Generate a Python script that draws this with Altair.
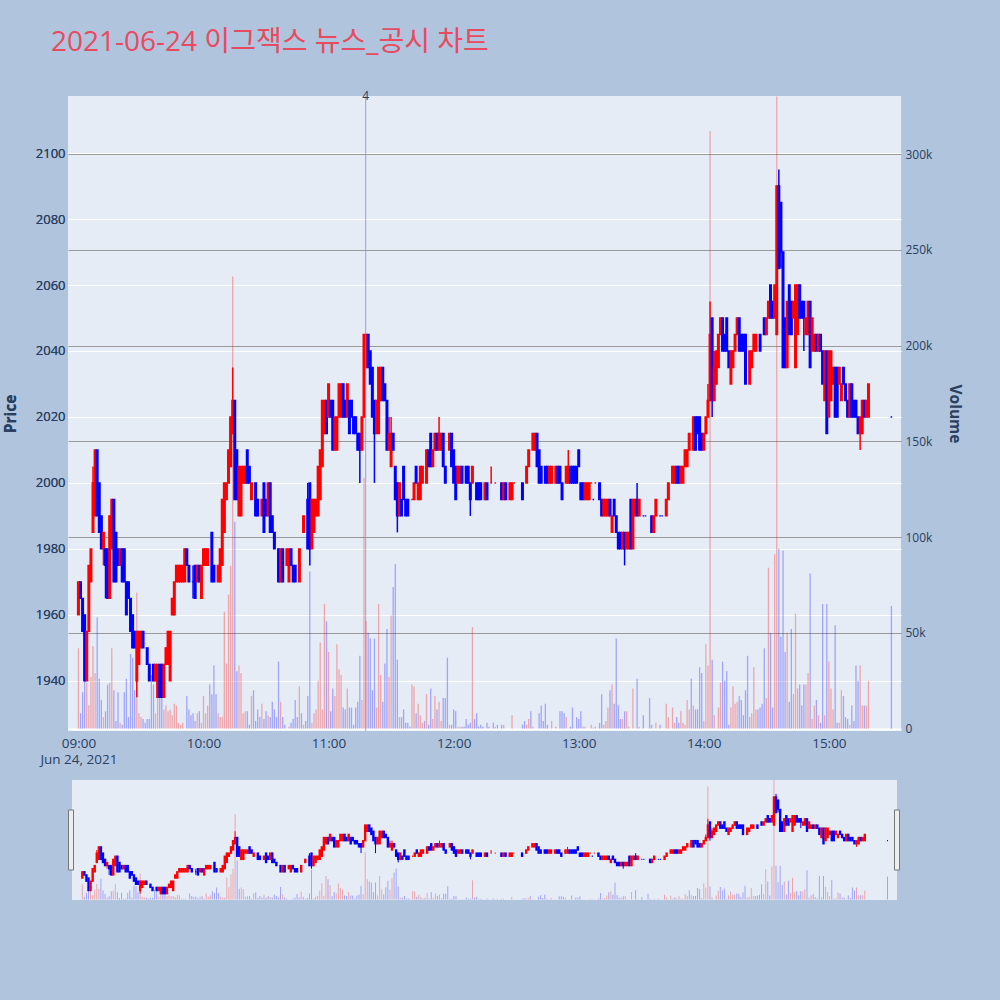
import altair as alt
import pandas as pd

TITLE = "2021-06-24 이그잭스 뉴스_공시 차트"

# 1-minute candles: (minutes after 09:00, open, high, low, close)
candles_0900 = [
    (0, 1960, 1970, 1960, 1970), (1, 1970, 1970, 1965, 1965), (2, 1965, 1965, 1955, 1955),
    (3, 1960, 1960, 1940, 1940), (4, 1940, 1955, 1940, 1955), (5, 1955, 1975, 1955, 1975),
    (6, 1970, 1980, 1970, 1980), (7, 1985, 2005, 1985, 2000), (8, 1990, 2010, 1990, 2010),
    (9, 2010, 2010, 1990, 1990), (10, 2000, 2000, 1985, 1985), (11, 1990, 1990, 1980, 1980),
    (12, 1980, 1985, 1975, 1985), (13, 1980, 1980, 1965, 1975), (14, 1980, 1980, 1965, 1965),
    (15, 1965, 1990, 1965, 1990), (16, 1980, 1995, 1980, 1995), (17, 1995, 1995, 1970, 1970),
    (18, 1985, 1985, 1970, 1970), (19, 1980, 1980, 1975, 1975), (20, 1975, 1980, 1975, 1980),
    (21, 1980, 1980, 1970, 1970), (22, 1980, 1980, 1970, 1970), (23, 1970, 1970, 1960, 1960),
    (24, 1970, 1970, 1965, 1965), (25, 1965, 1965, 1955, 1955), (26, 1960, 1960, 1950, 1950),
    (27, 1955, 1955, 1950, 1950), (28, 1940, 1955, 1935, 1955), (29, 1945, 1955, 1945, 1955),
    (30, 1950, 1955, 1950, 1955), (31, 1955, 1955, 1950, 1950), (33, 1950, 1950, 1945, 1945),
    (34, 1945, 1945, 1940, 1940), (36, 1945, 1945, 1940, 1940), (37, 1940, 1945, 1940, 1945),
    (38, 1935, 1945, 1935, 1945), (39, 1945, 1945, 1935, 1935), (40, 1945, 1945, 1935, 1935),
    (41, 1935, 1945, 1935, 1945), (42, 1945, 1950, 1945, 1950), (43, 1945, 1955, 1945, 1955),
    (44, 1940, 1955, 1940, 1955), (45, 1960, 1965, 1960, 1965), (46, 1960, 1970, 1960, 1970),
    (47, 1970, 1975, 1970, 1975), (48, 1970, 1975, 1970, 1975), (49, 1970, 1975, 1970, 1975),
    (50, 1970, 1975, 1970, 1975), (51, 1970, 1980, 1970, 1980), (52, 1980, 1980, 1975, 1975),
    (53, 1975, 1975, 1970, 1970), (55, 1970, 1975, 1965, 1970), (56, 1975, 1975, 1965, 1965),
    (57, 1970, 1975, 1970, 1975), (58, 1975, 1975, 1970, 1970), (59, 1965, 1975, 1965, 1975),
]
candles_1000 = [
    (60, 1975, 1980, 1975, 1980), (61, 1975, 1980, 1975, 1980), (62, 1975, 1980, 1975, 1980),
    (64, 1985, 1985, 1970, 1970), (65, 1975, 1975, 1970, 1970), (67, 1970, 1975, 1970, 1975),
    (68, 1970, 1980, 1970, 1980), (69, 1975, 1995, 1975, 1995), (70, 1985, 2000, 1985, 2000),
    (71, 1995, 2000, 1995, 2000), (72, 2000, 2010, 2000, 2010), (73, 2005, 2020, 2005, 2020),
    (74, 2015, 2035, 2015, 2025), (75, 2025, 2025, 1995, 1995), (76, 2010, 2010, 1995, 1995),
    (77, 1990, 2005, 1990, 2005), (78, 1990, 2005, 1990, 2005), (79, 2000, 2005, 2000, 2005),
    (80, 2000, 2005, 2000, 2005), (81, 2010, 2010, 2000, 2000), (82, 2005, 2005, 2000, 2000),
    (83, 1995, 2000, 1995, 2000), (85, 2000, 2000, 1990, 1990), (86, 1995, 1995, 1990, 1990),
    (88, 1990, 1995, 1990, 1995), (89, 2000, 2000, 1985, 1985), (90, 1995, 1995, 1990, 1990),
    (91, 1990, 2000, 1990, 2000), (92, 2000, 2000, 1985, 1985), (93, 1990, 1990, 1985, 1985),
    (94, 1985, 1985, 1980, 1980), (96, 1980, 1980, 1970, 1970), (97, 1970, 1980, 1970, 1980),
    (98, 1980, 1980, 1970, 1970), (100, 1975, 1980, 1975, 1980), (101, 1970, 1980, 1970, 1980),
    (102, 1980, 1980, 1975, 1975), (103, 1975, 1975, 1970, 1970), (104, 1975, 1975, 1970, 1970),
    (106, 1970, 1980, 1970, 1980), (108, 1985, 1990, 1985, 1990), (110, 1995, 2000, 1980, 1980),
    (111, 2000, 2000, 1975, 1980), (112, 1980, 1995, 1980, 1995), (113, 1985, 1995, 1985, 1995),
    (114, 1990, 1995, 1990, 1995), (115, 1990, 2005, 1990, 2005), (116, 1995, 2010, 1995, 2010),
    (117, 2005, 2025, 2005, 2025), (118, 2015, 2025, 2015, 2025), (119, 2025, 2025, 2015, 2015),
]
candles_1100 = [
    (120, 2020, 2030, 2020, 2030), (121, 2025, 2025, 2020, 2020), (122, 2025, 2025, 2010, 2010),
    (123, 2010, 2020, 2010, 2020), (124, 2010, 2020, 2010, 2020), (125, 2020, 2030, 2020, 2030),
    (126, 2020, 2030, 2020, 2030), (127, 2030, 2030, 2020, 2020), (128, 2025, 2025, 2020, 2020),
    (129, 2020, 2030, 2020, 2030), (130, 2025, 2025, 2015, 2015), (131, 2025, 2025, 2020, 2020),
    (132, 2020, 2020, 2015, 2015), (133, 2020, 2020, 2015, 2015), (134, 2015, 2015, 2010, 2010),
    (135, 2015, 2015, 2000, 2010), (136, 2010, 2020, 2010, 2020), (137, 2020, 2045, 2020, 2045),
    (138, 2035, 2045, 2035, 2045), (139, 2045, 2045, 2035, 2035), (140, 2040, 2040, 2030, 2030),
    (141, 2035, 2035, 2020, 2020), (142, 2025, 2025, 2000, 2015), (143, 2015, 2025, 2015, 2025),
    (144, 2015, 2035, 2015, 2035), (145, 2025, 2035, 2025, 2035), (146, 2035, 2035, 2025, 2025),
    (147, 2030, 2030, 2025, 2025), (148, 2025, 2025, 2010, 2010), (149, 2010, 2020, 2010, 2015),
    (150, 2005, 2020, 2005, 2015), (151, 2015, 2015, 2010, 2010), (152, 2005, 2005, 1995, 1995),
    (153, 2000, 2000, 1985, 1990), (154, 1990, 2000, 1990, 2000), (155, 1995, 1995, 1990, 1990),
    (156, 2005, 2005, 1995, 1995), (157, 1995, 1995, 1990, 1990), (158, 1995, 1995, 1990, 1990),
    (160, 1995, 1995, 1995, 1995), (161, 1995, 2000, 1995, 2000), (162, 2005, 2005, 2000, 2000),
    (163, 1995, 2000, 1995, 2000), (164, 1995, 2005, 1995, 2005), (165, 2000, 2005, 2000, 2005),
    (167, 2000, 2010, 2000, 2010), (168, 2010, 2010, 2005, 2005), (169, 2015, 2015, 2005, 2005),
    (170, 2005, 2010, 2005, 2010), (171, 2010, 2015, 2010, 2015), (172, 2015, 2015, 2010, 2010),
    (173, 2010, 2020, 2010, 2015), (174, 2010, 2015, 2010, 2015), (175, 2015, 2015, 2005, 2005),
    (176, 2005, 2005, 2000, 2000), (178, 2010, 2015, 2010, 2015), (179, 2015, 2015, 2005, 2005),
]
candles_1200 = [
    (180, 2010, 2010, 2000, 2000), (181, 2005, 2005, 1995, 1995), (182, 2000, 2005, 2000, 2005),
    (183, 2000, 2005, 2000, 2005), (184, 2005, 2005, 2000, 2000), (186, 2005, 2005, 2000, 2000),
    (187, 2005, 2005, 2000, 2000), (188, 2000, 2000, 1990, 1995), (189, 2000, 2005, 2000, 2005),
    (191, 2000, 2000, 1995, 1995), (192, 2000, 2000, 1995, 1995), (193, 2000, 2000, 1995, 1995),
    (195, 1995, 2000, 1995, 2000), (196, 2000, 2000, 1995, 1995), (198, 2000, 2005, 2000, 2000),
    (200, 2000, 2000, 2000, 2000), (203, 2000, 2000, 1995, 1995), (204, 1995, 2000, 1995, 2000),
    (205, 2000, 2000, 1995, 1995), (207, 1995, 2000, 1995, 2000), (208, 1995, 2000, 1995, 2000),
    (209, 2000, 2000, 2000, 2000), (213, 2000, 2000, 1995, 1995), (215, 2000, 2005, 2000, 2005),
    (216, 2005, 2010, 2005, 2010), (218, 2010, 2015, 2010, 2015), (219, 2010, 2015, 2010, 2015),
    (220, 2015, 2015, 2005, 2005), (221, 2010, 2010, 2000, 2000), (222, 2005, 2005, 2000, 2000),
    (224, 2005, 2005, 2000, 2000), (225, 2005, 2005, 2000, 2000), (226, 2000, 2005, 2000, 2005),
    (227, 2000, 2005, 2000, 2005), (229, 2000, 2005, 2000, 2005), (230, 2005, 2005, 2000, 2000),
    (231, 2005, 2005, 2000, 2000), (232, 2000, 2000, 1995, 1995), (234, 2000, 2005, 2000, 2005),
    (235, 2000, 2010, 2000, 2005), (236, 2005, 2005, 2000, 2000), (237, 2005, 2005, 2000, 2000),
    (238, 2005, 2005, 2000, 2000), (239, 2005, 2005, 2000, 2000),
]
candles_1300 = [
    (240, 2010, 2010, 2005, 2005), (241, 2000, 2000, 1995, 1995), (242, 2000, 2000, 1995, 1995),
    (243, 1995, 2000, 1995, 2000), (244, 1995, 2000, 1995, 2000), (245, 1995, 2000, 1995, 2000),
    (246, 2000, 2000, 2000, 2000), (247, 1995, 1995, 1995, 1995), (248, 2000, 2000, 2000, 2000),
    (250, 2000, 2000, 1995, 1995), (251, 1995, 1995, 1990, 1990), (252, 1990, 1995, 1990, 1995),
    (253, 1990, 1995, 1990, 1995), (254, 1990, 1995, 1990, 1995), (255, 1995, 1995, 1990, 1990),
    (256, 1985, 1990, 1985, 1990), (257, 1995, 1995, 1990, 1990), (258, 1990, 1990, 1985, 1985),
    (259, 1985, 1985, 1980, 1980), (260, 1985, 1985, 1980, 1980), (261, 1980, 1985, 1980, 1985),
    (262, 1985, 1985, 1975, 1980), (263, 1980, 1985, 1980, 1985), (264, 1980, 1985, 1980, 1985),
    (265, 1995, 1995, 1980, 1980), (266, 1980, 1995, 1980, 1995), (267, 1990, 1995, 1990, 1995),
    (268, 1995, 2000, 1990, 1990), (269, 1990, 1995, 1990, 1995), (271, 1990, 1990, 1990, 1990),
    (272, 1990, 1990, 1990, 1990), (275, 1990, 1990, 1985, 1985), (276, 1985, 1990, 1985, 1990),
    (277, 1990, 1995, 1990, 1995), (279, 1990, 1990, 1990, 1990), (280, 1990, 1990, 1990, 1990),
    (282, 1990, 1995, 1990, 1995), (283, 1995, 2000, 1995, 2000), (285, 2000, 2005, 2000, 2005),
    (286, 2000, 2005, 2000, 2005), (287, 2005, 2005, 2000, 2000), (288, 2005, 2005, 2000, 2000),
    (289, 2000, 2005, 2000, 2005), (290, 2000, 2005, 2000, 2005), (291, 2005, 2010, 2005, 2010),
    (292, 2005, 2010, 2005, 2010), (293, 2010, 2015, 2010, 2015), (295, 2010, 2020, 2010, 2020),
    (296, 2020, 2020, 2010, 2010), (297, 2020, 2020, 2015, 2015), (298, 2020, 2020, 2010, 2010),
    (299, 2015, 2015, 2010, 2010),
]
candles_1400 = [
    (300, 2010, 2015, 2010, 2015), (301, 2015, 2020, 2015, 2020), (302, 2020, 2030, 2020, 2025),
    (303, 2025, 2055, 2025, 2045), (304, 2050, 2050, 2020, 2025), (305, 2025, 2040, 2025, 2035),
    (306, 2030, 2040, 2030, 2040), (307, 2035, 2045, 2035, 2045), (308, 2045, 2050, 2045, 2050),
    (309, 2050, 2050, 2040, 2040), (310, 2045, 2045, 2040, 2040), (311, 2050, 2050, 2040, 2040),
    (312, 2040, 2040, 2035, 2035), (313, 2030, 2040, 2030, 2040), (314, 2035, 2040, 2035, 2040),
    (315, 2040, 2045, 2040, 2045), (316, 2045, 2050, 2045, 2050), (317, 2050, 2050, 2040, 2040),
    (318, 2045, 2045, 2040, 2040), (319, 2045, 2045, 2040, 2040), (320, 2045, 2045, 2030, 2030),
    (322, 2030, 2040, 2030, 2040), (323, 2035, 2040, 2035, 2040), (324, 2040, 2045, 2040, 2045),
    (325, 2040, 2045, 2040, 2045), (327, 2045, 2045, 2040, 2040), (329, 2050, 2050, 2045, 2045),
    (330, 2045, 2050, 2045, 2050), (331, 2050, 2055, 2050, 2055), (332, 2060, 2060, 2050, 2050),
    (333, 2055, 2055, 2050, 2050), (334, 2050, 2060, 2050, 2060), (335, 2045, 2090, 2045, 2090),
    (336, 2090, 2095, 2065, 2065), (337, 2085, 2085, 2065, 2070), (338, 2070, 2070, 2035, 2035),
    (339, 2050, 2050, 2035, 2035), (340, 2035, 2055, 2035, 2055), (341, 2060, 2060, 2045, 2045),
    (342, 2055, 2055, 2045, 2045), (343, 2050, 2055, 2050, 2055), (344, 2035, 2060, 2035, 2060),
    (345, 2045, 2060, 2045, 2060), (346, 2060, 2060, 2050, 2050), (347, 2055, 2055, 2050, 2050),
    (348, 2055, 2055, 2040, 2050), (349, 2045, 2050, 2045, 2050), (350, 2045, 2055, 2045, 2055),
    (351, 2055, 2055, 2035, 2035), (352, 2040, 2050, 2040, 2050), (353, 2040, 2045, 2040, 2045),
    (354, 2045, 2045, 2040, 2040), (355, 2040, 2045, 2040, 2045), (356, 2045, 2045, 2040, 2040),
    (357, 2040, 2040, 2030, 2030), (358, 2025, 2040, 2025, 2040), (359, 2040, 2040, 2015, 2015),
]
candles_1500 = [
    (360, 2020, 2040, 2020, 2040), (361, 2025, 2040, 2025, 2040), (362, 2030, 2035, 2030, 2035),
    (363, 2035, 2035, 2020, 2020), (364, 2035, 2035, 2020, 2020), (365, 2030, 2035, 2030, 2035),
    (366, 2025, 2030, 2025, 2030), (367, 2035, 2035, 2030, 2030), (368, 2030, 2030, 2025, 2025),
    (369, 2025, 2025, 2020, 2020), (370, 2020, 2030, 2020, 2030), (371, 2030, 2030, 2020, 2020),
    (372, 2025, 2025, 2020, 2020), (373, 2025, 2025, 2020, 2020), (374, 2020, 2020, 2015, 2015),
    (375, 2015, 2020, 2010, 2020), (376, 2015, 2025, 2015, 2025), (377, 2025, 2025, 2020, 2020),
    (378, 2020, 2025, 2020, 2025), (379, 2020, 2030, 2020, 2030), (390, 2020, 2020, 2020, 2020),
]

# traded shares per minute: (minutes after 09:00, volume)
volume_0900 = [
    (0, 42000), (1, 8000), (2, 19000), (3, 28000), (4, 24000), (5, 12000), (6, 27000),
    (7, 43000), (8, 29000), (9, 58000), (10, 26000), (11, 15000), (12, 6000), (13, 9000),
    (14, 23000), (15, 24000), (16, 42000), (17, 20000), (18, 4000), (19, 19000), (20, 3000),
    (21, 2000), (22, 19000), (23, 26000), (24, 6000), (25, 39000), (26, 37000), (27, 20000),
    (28, 71000), (29, 8000), (30, 6000), (31, 5000), (32, 3000), (33, 5000), (34, 5000),
    (35, 28000), (36, 23000), (37, 8000), (38, 20000), (39, 17000), (40, 24000), (41, 10000),
    (42, 12000), (43, 9000), (44, 10000), (45, 7000), (46, 13000), (47, 12000), (48, 3000),
    (49, 2000), (50, 3000), (52, 17000), (53, 10000), (54, 7000), (55, 8000), (56, 4000),
    (57, 8000), (58, 9000), (59, 3000),
]
volume_1000 = [
    (60, 17000), (61, 8000), (62, 12000), (63, 23000), (64, 18000), (65, 33000), (66, 18000),
    (67, 8000), (68, 6000), (69, 6000), (70, 61000), (71, 34000), (72, 70000), (73, 85000),
    (74, 236000), (75, 108000), (76, 30000), (77, 33000), (78, 29000), (79, 8000), (80, 9000),
    (81, 9000), (82, 2000), (83, 17000), (84, 20000), (85, 4000), (86, 10000), (87, 6000),
    (88, 13000), (89, 5000), (90, 9000), (91, 7000), (92, 6000), (93, 14000), (94, 10000),
    (95, 6000), (96, 35000), (97, 14000), (98, 6000), (99, 2000), (101, 1000), (102, 3000),
    (103, 5000), (104, 15000), (105, 6000), (106, 22000), (107, 8000), (108, 2000), (109, 4000),
    (110, 17000), (111, 82000), (112, 3000), (113, 8000), (114, 10000), (115, 25000),
    (116, 45000), (117, 10000), (118, 65000), (119, 56000),
]
volume_1100 = [
    (120, 40000), (121, 9000), (122, 21000), (123, 17000), (124, 44000), (125, 31000),
    (126, 28000), (127, 11000), (128, 10000), (129, 21000), (130, 11000), (131, 11000),
    (132, 2000), (133, 11000), (134, 14000), (135, 38000), (136, 15000), (137, 131000),
    (138, 56000), (139, 50000), (140, 47000), (141, 20000), (142, 47000), (143, 11000),
    (144, 65000), (145, 28000), (146, 14000), (147, 34000), (148, 52000), (149, 27000),
    (150, 59000), (151, 74000), (152, 86000), (153, 36000), (154, 6000), (155, 6000),
    (156, 10000), (157, 3000), (158, 3000), (159, 1000), (160, 23000), (161, 22000),
    (162, 8000), (163, 13000), (164, 7000), (165, 3000), (166, 4000), (167, 18000),
    (168, 2000), (169, 21000), (170, 5000), (171, 17000), (172, 10000), (173, 14000),
    (174, 4000), (175, 16000), (176, 16000), (177, 37000), (178, 2000), (179, 2000),
]
volume_1200 = [
    (180, 10000), (181, 9000), (182, 1000), (183, 1000), (184, 1000), (185, 1000), (186, 5000),
    (187, 2000), (188, 3000), (189, 53000), (190, 5000), (191, 8000), (192, 1000), (193, 2000),
    (194, 1000), (196, 3000), (197, 1000), (199, 3000), (200, 1000), (201, 2000), (203, 2000),
    (204, 2000), (208, 7000), (213, 2000), (214, 4000), (215, 2000), (216, 5000), (217, 9000),
    (218, 1000), (221, 8000), (222, 12000), (223, 4000), (224, 13000), (225, 2000), (227, 4000),
    (229, 1000), (231, 9000), (232, 9000), (233, 8000), (234, 6000), (236, 1000), (237, 11000),
    (239, 6000),
]
volume_1300 = [
    (240, 5000), (241, 9000), (242, 1000), (243, 1000), (246, 2000), (247, 500), (248, 1000),
    (250, 3000), (251, 18000), (252, 2000), (253, 4000), (254, 11000), (255, 20000),
    (256, 23000), (257, 13000), (258, 47000), (259, 12000), (260, 5000), (261, 5000),
    (262, 9000), (263, 9000), (264, 1000), (266, 21000), (268, 26000), (269, 1000), (271, 7000),
    (274, 16000), (275, 2000), (277, 3000), (279, 2000), (282, 13000), (283, 6000), (285, 11000),
    (286, 3000), (287, 6000), (288, 3000), (289, 9000), (290, 3000), (291, 2000), (292, 15000),
    (293, 10000), (294, 26000), (295, 12000), (296, 10000), (297, 10000), (298, 32000),
    (299, 29000),
]
volume_1400 = [
    (300, 4000), (301, 44000), (302, 33000), (303, 312000), (304, 36000), (305, 7000),
    (307, 11000), (308, 24000), (309, 35000), (310, 25000), (311, 30000), (312, 2000),
    (313, 11000), (314, 22000), (315, 13000), (316, 14000), (317, 17000), (318, 15000),
    (319, 7000), (320, 20000), (321, 38000), (322, 6000), (323, 8000), (324, 32000),
    (325, 10000), (326, 10000), (327, 11000), (328, 13000), (329, 42000), (330, 16000),
    (331, 84000), (332, 50000), (333, 11000), (334, 91000), (335, 330000), (336, 94000),
    (337, 48000), (338, 93000), (339, 40000), (340, 50000), (341, 14000), (342, 52000),
    (343, 18000), (344, 60000), (345, 21000), (346, 23000), (347, 12000), (348, 23000),
    (349, 23000), (350, 29000), (351, 81000), (352, 5000), (353, 12000), (354, 15000),
    (355, 7000), (356, 3000), (357, 65000), (358, 7000), (359, 65000),
]
volume_1500 = [
    (360, 35000), (361, 21000), (362, 10000), (363, 54000), (364, 3000), (365, 3000),
    (366, 20000), (367, 17000), (368, 6000), (369, 5000), (370, 2000), (371, 12000),
    (372, 4000), (373, 33000), (374, 25000), (375, 33000), (376, 12000), (377, 12000),
    (378, 12000), (379, 25000), (390, 64000),
]

# disclosure marker
news_minutes = [137.8]
news_labels = ["4"]

price_ticks = [1940, 1960, 1980, 2000, 2020, 2040, 2060, 2080, 2100]
volume_ticks = [0, 50000, 100000, 150000, 200000, 250000, 300000]
hour_ticks = [0, 60, 120, 180, 240, 300, 360]

price_domain = [1924.8, 2117.3]
volume_domain = [-1250, 330300]
minute_domain = [-2.6, 392.2]

UP, DOWN = "#ff0000", "#0000ff"
INK = "#2a3f5f"
PLOT_BG = "#e5ecf6"
PAGE_BG = "#b0c4de"
TITLE_RED = "#e84a5f"
FONT = "Open Sans, Noto Sans CJK KR, sans-serif"

PLOT_W, PLOT_H = 833, 635
SLIDER_H = 120
SLIDER_INSET = 4  # the slider track is a little narrower than the plot

# ---- tables -------------------------------------------------------------
candles = pd.DataFrame(
    candles_0900 + candles_1000 + candles_1100 + candles_1200
    + candles_1300 + candles_1400 + candles_1500,
    columns=["minute", "open", "high", "low", "close"],
)
dirs, prev_close, prev_dir = [], None, "up"
for o, c in zip(candles["open"], candles["close"]):
    if c > o:
        d = "up"
    elif c < o:
        d = "down"
    elif prev_close is None or c == prev_close:
        d = prev_dir
    else:
        d = "up" if c > prev_close else "down"
    dirs.append(d)
    prev_close, prev_dir = c, d
candles["dir"] = dirs

volumes = pd.DataFrame(
    volume_0900 + volume_1000 + volume_1100 + volume_1200
    + volume_1300 + volume_1400 + volume_1500,
    columns=["minute", "volume"],
)
volumes = volumes.merge(candles[["minute", "dir"]], on="minute", how="left")
volumes["dir"] = volumes["dir"].fillna("down")

news = pd.DataFrame({"minute": news_minutes, "label": news_labels})
heading = pd.DataFrame({"text": [TITLE]})

color_scale = alt.Scale(domain=["up", "down"], range=[UP, DOWN])

hour_label = (
    "datum.value == 0 ? ['09:00', 'Jun 24, 2021'] : "
    "((datum.value / 60 + 9) < 10 ? '0' : '') + (datum.value / 60 + 9) + ':00'"
)


def layers(x_domain, price_axis, volume_axis, x_axis, body_w, wick_w, vol_w):
    x = alt.X("minute:Q", scale=alt.Scale(domain=x_domain, nice=False, zero=False), axis=x_axis)
    vol = alt.Chart(volumes).mark_bar(size=vol_w, opacity=0.3).encode(
        x=x,
        y=alt.Y("volume:Q", scale=alt.Scale(domain=volume_domain, nice=False, zero=False),
                axis=volume_axis),
        y2=alt.datum(0),
        color=alt.Color("dir:N", scale=color_scale, legend=None),
    )
    py = alt.Scale(domain=price_domain, nice=False, zero=False)
    wick = alt.Chart(candles).mark_rule(strokeWidth=wick_w).encode(
        x=x,
        y=alt.Y("low:Q", scale=py, axis=price_axis),
        y2="high:Q",
        color=alt.Color("dir:N", scale=color_scale, legend=None),
    )
    body = alt.Chart(candles).mark_bar(size=body_w, strokeWidth=1.4).encode(
        x=x,
        y=alt.Y("open:Q", scale=py, axis=price_axis),
        y2="close:Q",
        fill=alt.Fill("dir:N", scale=color_scale, legend=None),
        stroke=alt.Stroke("dir:N", scale=color_scale, legend=None),
    )
    return vol, wick, body, x


price_axis = alt.Axis(
    values=price_ticks, format="d", title="Price", orient="left", grid=True,
    gridColor="white", gridWidth=1, domain=False, ticks=False, labelColor=INK,
    labelFont=FONT, labelFontSize=13, labelPadding=3, titleColor=INK, titleFont=FONT,
    titleFontSize=15.5, titleFontWeight="bold", titlePadding=17,
)
volume_axis = alt.Axis(
    values=volume_ticks, title="Volume", orient="right", grid=True,
    gridColor={"condition": {"test": "datum.value === 0", "value": "#ffffff"}, "value": "#9a9a9a"},
    gridWidth={"condition": {"test": "datum.value === 0", "value": 2}, "value": 1},
    domain=False, ticks=False,
    labelExpr="datum.value == 0 ? '0' : (datum.value / 1000) + 'k'",
    labelColor=INK, labelFont=FONT, labelFontSize=12, labelPadding=4,
    titleColor=INK, titleFont=FONT, titleFontSize=15.5, titleFontWeight="bold", titlePadding=15,
)
x_axis = alt.Axis(
    values=hour_ticks, labelExpr=hour_label, title=None, grid=False, domain=False,
    ticks=False, labelColor=INK, labelFont=FONT, labelFontSize=13.5, labelPadding=5,
    labelLineHeight=16.5,
)

vol, wick, body, xs = layers(minute_domain, price_axis, volume_axis, x_axis, 1.6, 1.5, 1.3)

news_line = alt.Chart(news).mark_rule(color="#7f8cf5", strokeWidth=1, opacity=0.8).encode(x=xs)
news_text = alt.Chart(news).mark_text(
    font=FONT, fontSize=12, color=INK, baseline="middle", dy=0
).encode(x=xs, y=alt.value(0), text="label:N")

# chart heading, placed above the plot's top-left corner
heading_text = alt.Chart(heading).mark_text(
    font=FONT, fontSize=28, color=TITLE_RED, align="left", baseline="alphabetic"
).encode(x=alt.value(-17), y=alt.value(-45), text="text:N")

main = (
    alt.layer(vol, wick, body, news_line, news_text, heading_text)
    .resolve_scale(y="independent")
    .properties(width=PLOT_W, height=PLOT_H,
                view=alt.ViewBackground(fill=PLOT_BG, stroke=None))
)

# ---- range slider: the whole session in miniature -------------------------
span = (minute_domain[1] - minute_domain[0]) / (PLOT_W - 2 * SLIDER_INSET)
slider_domain = [minute_domain[0] - SLIDER_INSET * span, minute_domain[1] + SLIDER_INSET * span]

s_vol, s_wick, s_body, s_xs = layers(slider_domain, None, None, None, 1.0, 1.0, 1.0)
track = alt.Chart(news).mark_rect(color=PLOT_BG).encode(
    x=alt.value(SLIDER_INSET), x2=alt.value(PLOT_W - SLIDER_INSET),
    y=alt.value(0), y2=alt.value(SLIDER_H),
)
handles = alt.Chart(pd.DataFrame({"x0": [0.5, PLOT_W - 6.5], "x1": [5.5, PLOT_W - 1.5]})).mark_rect(
    fill="#eeeeee", stroke="#777777", strokeWidth=1
).encode(
    x=alt.X("x0:Q", scale=alt.Scale(domain=[0, PLOT_W], range=[0, PLOT_W]), axis=None),
    x2="x1:Q",
    y=alt.value(30), y2=alt.value(90),
)

slider = (
    alt.layer(track, s_vol, alt.layer(s_wick, s_body), handles)
    .resolve_scale(y="independent", x="independent")
    .properties(width=PLOT_W, height=SLIDER_H,
                view=alt.ViewBackground(fill=None, stroke=None))
)

chart = (
    alt.vconcat(main, slider, spacing=49, bounds="flush")
    .resolve_scale(x="independent", y="independent")
    .properties(
        padding={"left": 3, "top": 29, "right": 38, "bottom": 100},
        background=PAGE_BG,
    )
    .configure_view(stroke=None)
)

chart.save("out.html", embed_options={"renderer": "svg", "actions": False})
